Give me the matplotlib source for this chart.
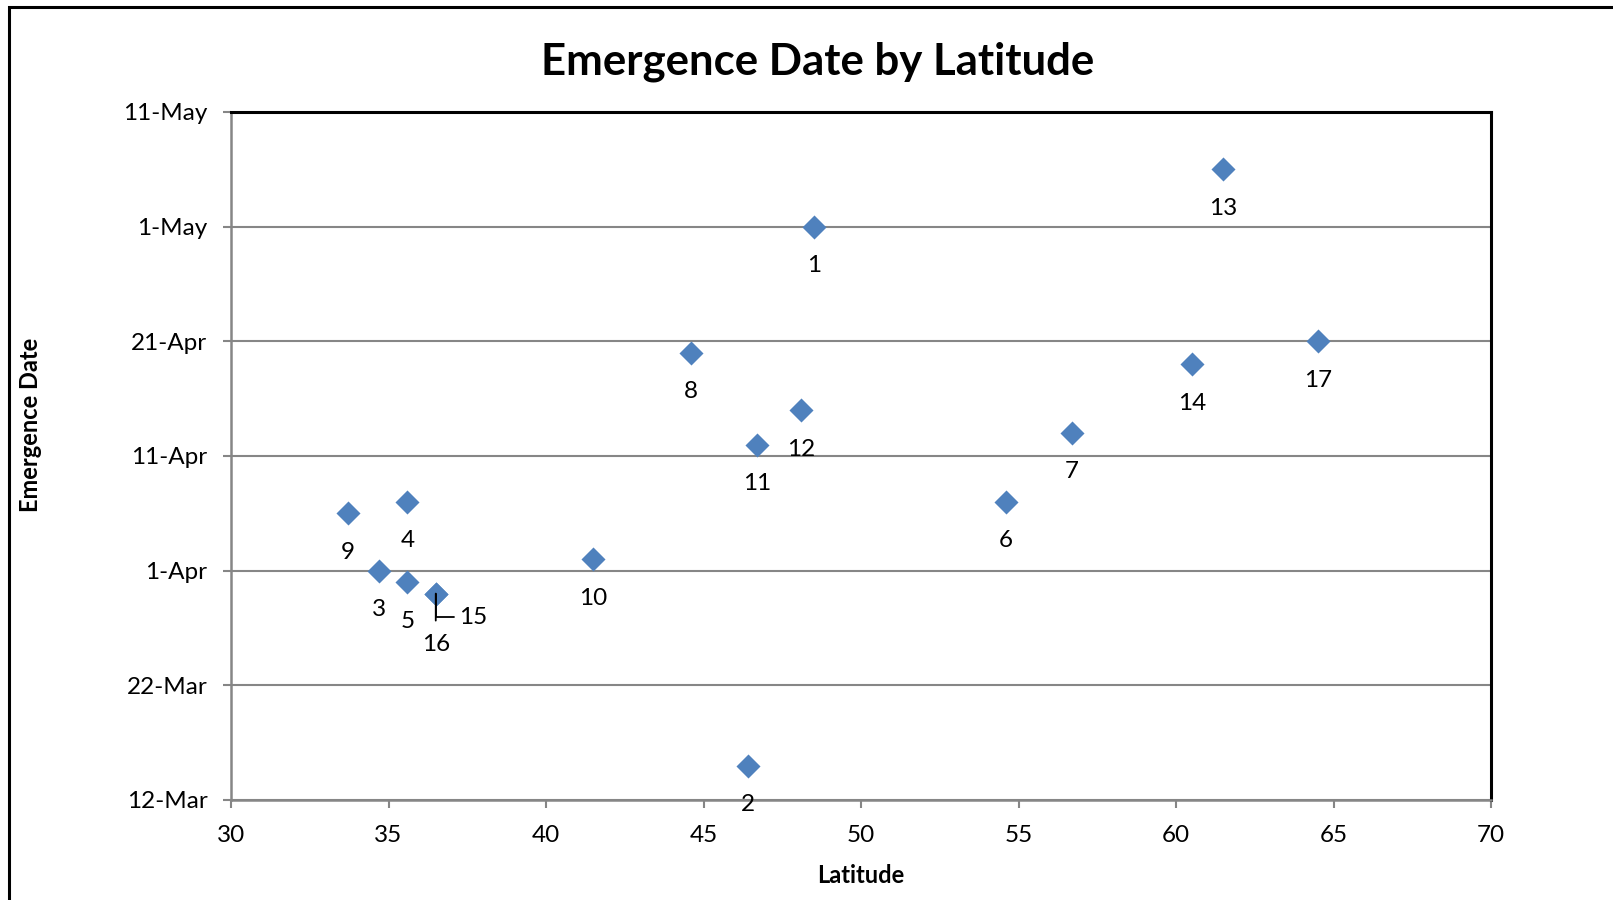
import matplotlib
matplotlib.use("Agg")
import matplotlib.pyplot as plt
import matplotlib.dates as mdates
from matplotlib.patches import Rectangle
from datetime import datetime

plt.rcParams['font.family'] = ['Lato', 'DejaVu Sans']

# data
labels = ["1", "2", "3", "4", "5", "6", "7", "8", "9", "10",
          "11", "12", "13", "14", "15", "16", "17"]
latitude = [48.5, 46.4, 34.7, 35.6, 35.6, 54.6, 56.7, 44.6, 33.7, 41.5,
            46.7, 48.1, 61.5, 60.5, 36.5, 36.5, 64.5]
emergence = ["1-May", "15-Mar", "1-Apr", "7-Apr", "31-Mar", "7-Apr", "13-Apr",
             "20-Apr", "6-Apr", "2-Apr", "12-Apr", "15-Apr", "6-May", "19-Apr",
             "30-Mar", "30-Mar", "21-Apr"]
ytick_labels = ["12-Mar", "22-Mar", "1-Apr", "11-Apr", "21-Apr", "1-May", "11-May"]


def to_num(s):
    return mdates.date2num(datetime.strptime(s + "-2010", "%d-%b-%Y"))


ydates = [to_num(s) for s in emergence]
yticks = [to_num(s) for s in ytick_labels]

fig = plt.figure(figsize=(16.13, 9.0), dpi=100)
ax = fig.add_axes([231 / 1613, 1 - 800 / 900, 1260 / 1613, 688 / 900])

blue = "#4F81BD"
grid_c = "#868686"

ax.scatter(latitude, ydates, marker="D", s=150, color=blue, zorder=3, linewidths=0)

# point labels, below each marker (15 and 16 share a point: leader lines)
for lab, x, y in zip(labels, latitude, ydates):
    if lab == "15":
        ax.annotate(lab, (x, y), xytext=(17, -17), textcoords="offset points",
                    ha="left", va="center", fontsize=17.5,
                    arrowprops=dict(arrowstyle="-", color="black", lw=1.3,
                                    shrinkA=2, shrinkB=0,
                                    connectionstyle="angle,angleA=0,angleB=90,rad=0"))
    elif lab == "16":
        ax.annotate(lab, (x, y), xytext=(0, -37), textcoords="offset points",
                    ha="center", va="center", fontsize=17.5,
                    arrowprops=dict(arrowstyle="-", color="black", lw=1.3,
                                    shrinkA=8, shrinkB=0))
    else:
        ax.annotate(lab, (x, y), xytext=(0, -28), textcoords="offset points",
                    ha="center", va="center", fontsize=17.5)

ax.set_xlim(30, 70)
ax.set_xticks(range(30, 71, 5))
ax.set_ylim(yticks[0], yticks[-1])
ax.set_yticks(yticks)
ax.set_yticklabels(ytick_labels)

ax.yaxis.grid(True, color=grid_c, linewidth=1.5)
ax.set_axisbelow(True)

for side in ["left", "bottom"]:
    ax.spines[side].set_color(grid_c)
    ax.spines[side].set_linewidth(1.8)
for side in ["top", "right"]:
    ax.spines[side].set_color("black")
    ax.spines[side].set_linewidth(2.2)

ax.tick_params(axis="both", colors=grid_c, length=6, width=1.5, labelsize=17.5,
               labelcolor="black")
ax.tick_params(axis="y", pad=11)
ax.tick_params(axis="x", pad=12)

ax.set_xlabel("Latitude", fontsize=17, fontweight="bold", labelpad=13)
ax.set_ylabel("Emergence Date", fontsize=17, fontweight="bold")
ax.yaxis.set_label_coords(42 / 1613, 1 - 425 / 900, transform=fig.transFigure)

fig.text(818 / 1613, 1 - 62 / 900, "Emergence Date by Latitude",
         ha="center", va="center", fontsize=31.5, fontweight="bold")

# outer chart frame (runs past the right and bottom edges)
fig.patches.append(Rectangle((9 / 1613, -0.05), 1.2, 1 - 7 / 900 + 0.05,
                             transform=fig.transFigure, fill=False,
                             edgecolor="black", linewidth=2.2))

fig.savefig("out.png", dpi=100)
